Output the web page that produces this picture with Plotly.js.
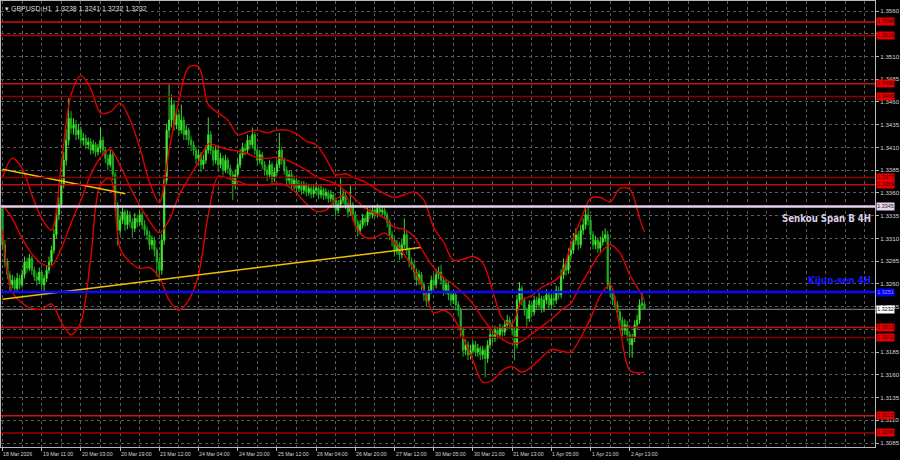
<!DOCTYPE html>
<html><head><meta charset="utf-8">
<script src="https://cdn.plot.ly/plotly-3.0.1.min.js"></script>
<style>html,body{margin:0;padding:0;background:#000;}#chart{width:900px;height:460px;}</style>
</head><body><div id="chart"></div>
<script>
// ---- OHLC data (GBPUSD H1), bar index 0 = 18 Mar 2026 19:00 ----
const firstOpen = 1.3343;
const close = [
1.3303,1.3284,1.3270,1.3259,1.3264,1.3255,1.3266,1.3259,1.3270,1.3284,
1.3277,1.3288,1.3275,1.3268,1.3264,1.3273,1.3259,1.3266,1.3275,1.3284,
1.3297,1.3314,1.3336,1.3347,1.3369,1.3396,1.3418,1.3442,1.3431,1.3435,
1.3424,1.3429,1.3418,1.3420,1.3413,1.3416,1.3407,1.3413,1.3405,1.3409,
1.3418,1.3407,1.3398,1.3391,1.3402,1.3380,1.3347,1.3319,1.3330,1.3339,
1.3325,1.3336,1.3328,1.3321,1.3332,1.3328,1.3336,1.3325,1.3319,1.3314,
1.3303,1.3308,1.3297,1.3284,1.3275,1.3308,1.3374,1.3429,1.3440,1.3457,
1.3435,1.3446,1.3429,1.3440,1.3424,1.3429,1.3418,1.3413,1.3407,1.3398,
1.3402,1.3391,1.3396,1.3407,1.3424,1.3407,1.3396,1.3407,1.3391,1.3398,
1.3385,1.3396,1.3387,1.3380,1.3369,1.3380,1.3391,1.3402,1.3409,1.3407,
1.3418,1.3413,1.3424,1.3407,1.3396,1.3402,1.3391,1.3385,1.3380,1.3391,
1.3376,1.3383,1.3391,1.3407,1.3396,1.3385,1.3374,1.3380,1.3369,1.3374,
1.3365,1.3369,1.3363,1.3368,1.3361,1.3365,1.3359,1.3363,1.3365,1.3358,
1.3363,1.3357,1.3360,1.3354,1.3358,1.3352,1.3341,1.3347,1.3352,1.3358,
1.3347,1.3339,1.3347,1.3336,1.3328,1.3319,1.3325,1.3332,1.3328,1.3339,
1.3336,1.3341,1.3337,1.3343,1.3339,1.3341,1.3336,1.3328,1.3314,1.3308,
1.3297,1.3303,1.3292,1.3303,1.3314,1.3297,1.3284,1.3281,1.3273,1.3264,
1.3270,1.3259,1.3248,1.3242,1.3253,1.3264,1.3259,1.3270,1.3273,1.3264,
1.3253,1.3259,1.3248,1.3242,1.3248,1.3237,1.3231,1.3209,1.3187,1.3193,
1.3182,1.3187,1.3193,1.3185,1.3189,1.3182,1.3187,1.3178,1.3193,1.3204,
1.3200,1.3209,1.3204,1.3211,1.3207,1.3215,1.3220,1.3215,1.3209,1.3193,
1.3242,1.3255,1.3242,1.3231,1.3222,1.3237,1.3229,1.3242,1.3237,1.3244,
1.3233,1.3242,1.3248,1.3237,1.3244,1.3242,1.3253,1.3248,1.3270,1.3281,
1.3275,1.3292,1.3297,1.3308,1.3314,1.3303,1.3319,1.3325,1.3336,1.3330,
1.3314,1.3303,1.3308,1.3299,1.3306,1.3310,1.3314,1.3259,1.3251,1.3242,
1.3237,1.3229,1.3220,1.3209,1.3215,1.3204,1.3193,1.3200,1.3215,1.3220,
1.3237,1.3238,1.3232];
const high = [
1.3347,1.3308,1.3288,1.3274,1.3270,1.3268,1.3272,1.3270,1.3276,1.3290,
1.3289,1.3293,1.3291,1.3279,1.3272,1.3278,1.3276,1.3270,1.3280,1.3290,
1.3302,1.3320,1.3342,1.3355,1.3378,1.3405,1.3430,1.3464,1.3450,1.3442,
1.3440,1.3436,1.3433,1.3426,1.3424,1.3421,1.3420,1.3418,1.3416,1.3414,
1.3432,1.3422,1.3410,1.3402,1.3407,1.3405,1.3383,1.3350,1.3336,1.3346,
1.3342,1.3341,1.3340,1.3332,1.3338,1.3336,1.3342,1.3339,1.3330,1.3323,
1.3318,1.3313,1.3312,1.3300,1.3290,1.3315,1.3380,1.3436,1.3479,1.3468,
1.3462,1.3452,1.3450,1.3457,1.3444,1.3435,1.3432,1.3422,1.3417,1.3411,
1.3408,1.3405,1.3402,1.3412,1.3443,1.3428,1.3411,1.3412,1.3410,1.3404,
1.3401,1.3402,1.3399,1.3391,1.3384,1.3386,1.3397,1.3408,1.3415,1.3414,
1.3424,1.3422,1.3432,1.3427,1.3410,1.3407,1.3405,1.3395,1.3389,1.3396,
1.3394,1.3388,1.3396,1.3426,1.3411,1.3399,1.3389,1.3385,1.3384,1.3379,
1.3378,1.3374,1.3373,1.3373,1.3371,1.3370,1.3368,1.3368,1.3371,1.3368,
1.3368,1.3366,1.3365,1.3363,1.3363,1.3361,1.3355,1.3352,1.3376,1.3363,
1.3361,1.3350,1.3368,1.3350,1.3339,1.3331,1.3330,1.3337,1.3336,1.3344,
1.3343,1.3346,1.3345,1.3348,1.3347,1.3346,1.3345,1.3339,1.3331,1.3318,
1.3311,1.3308,1.3306,1.3310,1.3332,1.3318,1.3300,1.3289,1.3285,1.3277,
1.3275,1.3273,1.3262,1.3252,1.3258,1.3269,1.3271,1.3276,1.3279,1.3281,
1.3268,1.3264,1.3262,1.3252,1.3253,1.3251,1.3241,1.3234,1.3212,1.3199,
1.3197,1.3193,1.3198,1.3197,1.3194,1.3192,1.3192,1.3190,1.3198,1.3209,
1.3208,1.3214,1.3212,1.3216,1.3214,1.3220,1.3226,1.3224,1.3218,1.3212,
1.3248,1.3262,1.3258,1.3245,1.3234,1.3242,1.3240,1.3247,1.3246,1.3250,
1.3247,1.3247,1.3254,1.3251,1.3249,1.3250,1.3258,1.3257,1.3276,1.3288,
1.3285,1.3299,1.3304,1.3316,1.3321,1.3318,1.3325,1.3332,1.3344,1.3344,
1.3334,1.3318,1.3313,1.3311,1.3312,1.3318,1.3321,1.3318,1.3264,1.3255,
1.3247,1.3241,1.3232,1.3224,1.3221,1.3219,1.3207,1.3205,1.3220,1.3226,
1.3243,1.3250,1.3241];
const low = [
1.3297,1.3278,1.3265,1.3251,1.3255,1.3250,1.3252,1.3254,1.3256,1.3266,
1.3272,1.3274,1.3270,1.3263,1.3258,1.3260,1.3254,1.3249,1.3262,1.3271,
1.3280,1.3293,1.3310,1.3330,1.3343,1.3365,1.3390,1.3412,1.3425,1.3424,
1.3418,1.3419,1.3413,1.3412,1.3408,1.3408,1.3402,1.3403,1.3400,1.3401,
1.3405,1.3402,1.3393,1.3385,1.3388,1.3374,1.3340,1.3302,1.3314,1.3326,
1.3318,1.3320,1.3322,1.3310,1.3317,1.3322,1.3324,1.3320,1.3313,1.3308,
1.3297,1.3298,1.3290,1.3268,1.3262,1.3270,1.3303,1.3370,1.3420,1.3432,
1.3428,1.3430,1.3423,1.3425,1.3418,1.3418,1.3412,1.3406,1.3401,1.3392,
1.3393,1.3383,1.3386,1.3392,1.3403,1.3402,1.3390,1.3392,1.3385,1.3387,
1.3379,1.3382,1.3381,1.3374,1.3352,1.3364,1.3376,1.3387,1.3398,1.3401,
1.3403,1.3408,1.3409,1.3402,1.3390,1.3392,1.3386,1.3379,1.3373,1.3376,
1.3370,1.3372,1.3379,1.3387,1.3391,1.3380,1.3368,1.3370,1.3363,1.3364,
1.3360,1.3361,1.3358,1.3359,1.3356,1.3357,1.3354,1.3355,1.3359,1.3353,
1.3354,1.3352,1.3353,1.3349,1.3350,1.3346,1.3334,1.3337,1.3343,1.3348,
1.3342,1.3333,1.3335,1.3330,1.3321,1.3312,1.3314,1.3321,1.3323,1.3324,
1.3331,1.3332,1.3333,1.3333,1.3334,1.3335,1.3331,1.3322,1.3308,1.3301,
1.3290,1.3292,1.3286,1.3288,1.3299,1.3292,1.3278,1.3275,1.3267,1.3258,
1.3259,1.3253,1.3241,1.3235,1.3238,1.3249,1.3254,1.3255,1.3265,1.3259,
1.3247,1.3249,1.3242,1.3236,1.3238,1.3231,1.3224,1.3202,1.3180,1.3182,
1.3176,1.3177,1.3183,1.3180,1.3180,1.3176,1.3177,1.3157,1.3173,1.3189,
1.3195,1.3196,1.3199,1.3200,1.3202,1.3203,1.3211,1.3210,1.3203,1.3176,
1.3189,1.3236,1.3236,1.3225,1.3213,1.3218,1.3223,1.3225,1.3232,1.3233,
1.3228,1.3229,1.3238,1.3232,1.3233,1.3236,1.3238,1.3243,1.3244,1.3265,
1.3269,1.3271,1.3287,1.3293,1.3303,1.3297,1.3299,1.3314,1.3320,1.3324,
1.3308,1.3298,1.3298,1.3294,1.3295,1.3302,1.3306,1.3254,1.3245,1.3236,
1.3231,1.3223,1.3214,1.3202,1.3204,1.3197,1.3180,1.3179,1.3196,1.3210,
1.3216,1.3232,1.3232];

// ---- Bollinger-type envelope (red), sampled at bar indices ----
const bandBars = [0,4,8,12,16,20,24,28,32,36,40,44,48,52,56,60,64,68,72,76,80,84,88,92,96,100,104,108,112,116,120,124,128,132,136,140,144,148,152,156,160,164,168,172,176,180,184,188,192,196,200,204,208,212,216,220,224,228,232,236,240,244,248,252,256,260,262];
const upperBand = [1.3377,1.3398,1.3387,1.3358,1.3332,1.3319,1.3391,1.3468,1.3489,1.3475,
1.3448,1.3449,1.3459,1.3441,1.3410,1.3372,1.3349,1.3407,1.3462,1.3498,
1.3499,1.3457,1.3448,1.3440,1.3424,1.3427,1.3429,1.3426,1.3429,1.3429,
1.3425,1.3417,1.3413,1.3398,1.3380,1.3381,1.3376,1.3372,1.3365,1.3359,
1.3355,1.3358,1.3361,1.3352,1.3322,1.3306,1.3286,1.3287,1.3290,1.3283,
1.3253,1.3222,1.3216,1.3242,1.3247,1.3256,1.3261,1.3270,1.3303,1.3330,
1.3354,1.3355,1.3350,1.3365,1.3364,1.3332,1.3317];
const middleBand = [1.3347,1.3332,1.3310,1.3293,1.3282,1.3280,1.3299,1.3327,1.3352,1.3380,
1.3399,1.3408,1.3390,1.3367,1.3346,1.3329,1.3316,1.3330,1.3357,1.3376,
1.3394,1.3414,1.3411,1.3408,1.3406,1.3403,1.3399,1.3398,1.3399,1.3396,
1.3391,1.3385,1.3378,1.3374,1.3370,1.3362,1.3353,1.3343,1.3338,1.3332,
1.3322,1.3320,1.3312,1.3294,1.3278,1.3267,1.3259,1.3250,1.3238,1.3222,
1.3208,1.3199,1.3194,1.3197,1.3205,1.3213,1.3221,1.3231,1.3239,1.3259,
1.3277,1.3294,1.3303,1.3294,1.3270,1.3252,1.3242];
const lowerBand = [1.3319,1.3251,1.3239,1.3233,1.3232,1.3238,1.3218,1.3204,1.3218,1.3288,
1.3369,1.3376,1.3299,1.3284,1.3277,1.3278,1.3267,1.3242,1.3231,1.3242,
1.3270,1.3336,1.3378,1.3376,1.3373,1.3369,1.3369,1.3369,1.3370,1.3368,
1.3360,1.3348,1.3340,1.3341,1.3353,1.3357,1.3324,1.3311,1.3311,1.3316,
1.3305,1.3292,1.3275,1.3253,1.3228,1.3231,1.3223,1.3201,1.3176,1.3152,
1.3154,1.3165,1.3169,1.3163,1.3169,1.3179,1.3188,1.3186,1.3185,1.3201,
1.3222,1.3247,1.3259,1.3211,1.3165,1.3162,1.3163];

// ---- trend lines (yellow) ----
const trendDownBars = [0, 50.2];
const trendDownPrices = [1.3386, 1.3359];
const trendUpBars = [0, 170.6];
const trendUpPrices = [1.3243, 1.3300];

// ---- horizontal levels ----
const redLevels = [1.3548, 1.3533, 1.3480, 1.3466, 1.3377, 1.3369, 1.3212, 1.3201, 1.3115, 1.3096];
const redLevelColors = ['#d01010','#a80000','#d01010','#900000','#900000','#c80808','#c01010','#8c0000','#d01010','#a00000'];
const senkouLevel = 1.3345;
const kijunLevel = 1.3251;
const lastPrice = 1.3232;

// ---- price axis ticks (labels hidden under level boxes are blank, as in the reference) ----
const priceTicks = [1.3085,1.3110,1.3135,1.3160,1.3185,1.3210,1.3235,1.3260,1.3285,1.3310,1.3335,1.3360,1.3385,1.3410,1.3435,1.3460,1.3485,1.3510,1.3535,1.3560];
const priceTickText = ['1.3085','1.3110','1.3135','1.3160','1.3185','','1.3235','1.3260','1.3285','1.3310','1.3335','1.3360','1.3385','1.3410','1.3435','1.3460','1.3485','1.3510','','1.3560'];

// ---- time axis labels ----
const labelBars = [0,16,32,48,64,80,96,112,128,144,160,176,192,208,224,240,256];
const labelText = ['18 Mar 2026','19 Mar 11:00','20 Mar 03:00','20 Mar 19:00','23 Mar 12:00','24 Mar 04:00','24 Mar 20:00','25 Mar 12:00','26 Mar 04:00','26 Mar 20:00','27 Mar 12:00','30 Mar 05:00','30 Mar 21:00','31 Mar 13:00','1 Apr 05:00','1 Apr 21:00','2 Apr 13:00'];
const headerText = 'GBPUSD,H1  1.3238 1.3241 1.3232 1.3232';

const bars = close.map((_, i) => i);
const open = [firstOpen].concat(close.slice(0, -1));

const traces = [
  {type:'scatter', mode:'lines', x:bandBars, y:upperBand, line:{color:'#e00000', width:1.4, shape:'spline', smoothing:0.9}, hoverinfo:'skip'},
  {type:'scatter', mode:'lines', x:bandBars, y:middleBand, line:{color:'#e00000', width:1.4, shape:'spline', smoothing:0.9}, hoverinfo:'skip'},
  {type:'scatter', mode:'lines', x:bandBars, y:lowerBand, line:{color:'#e00000', width:1.4, shape:'spline', smoothing:0.9}, hoverinfo:'skip'},
  {type:'candlestick', x:bars, open:open, high:high, low:low, close:close,
   increasing:{line:{color:'#3ade2a', width:1}, fillcolor:'#9dff5a'},
   decreasing:{line:{color:'#1db41d', width:1}, fillcolor:'#22a822'},
   whiskerwidth:0},
  {type:'scatter', mode:'lines', x:trendDownBars, y:trendDownPrices, line:{color:'#f0c000', width:1.5}, hoverinfo:'skip'},
  {type:'scatter', mode:'lines', x:trendUpBars, y:trendUpPrices, line:{color:'#f0c000', width:1.5}, hoverinfo:'skip'}
];

const shapes = [];
redLevels.forEach((p, k) => shapes.push({type:'line', xref:'paper', x0:0, x1:1, yref:'y', y0:p, y1:p, line:{color:redLevelColors[k], width:1.5}, layer:'above'}));
shapes.push({type:'line', xref:'paper', x0:0, x1:1, yref:'y', y0:lastPrice, y1:lastPrice, line:{color:'#8a8a8a', width:1}, layer:'below'});
shapes.push({type:'line', xref:'paper', x0:0, x1:1, yref:'y', y0:senkouLevel, y1:senkouLevel, line:{color:'#e4d2ea', width:2.5}, layer:'above'});
shapes.push({type:'line', xref:'paper', x0:0, x1:1, yref:'y', y0:kijunLevel, y1:kijunLevel, line:{color:'#0a0aff', width:2.5}, layer:'above'});

const boxFont = {family:'Liberation Sans, Arial, sans-serif', size:5.4};
const annotations = [];
function priceBox(p, bg, fg){
  annotations.push({xref:'paper', x:1, xanchor:'left', xshift:1, yref:'y', y:p, yanchor:'middle', text:p.toFixed(4), showarrow:false, bgcolor:bg, borderpad:0.3, font:Object.assign({color:fg}, boxFont)});
}
redLevels.forEach(p => priceBox(p, '#e80000', '#3a0000'));
priceBox(senkouLevel, '#e6d6ee', '#222');
priceBox(kijunLevel, '#0000f0', '#9a9aff');
priceBox(lastPrice, '#ffffff', '#000');

const axisFont = {family:'Liberation Sans, Arial, sans-serif', color:'#d4d4d4'};
labelBars.forEach((b, k) => annotations.push({xref:'x', x:b, xanchor:'left', xshift:-1, yref:'paper', y:0, yanchor:'top', yshift:-2,
  text:labelText[k], showarrow:false, font:Object.assign({size:5.2}, axisFont)}));

const labelFamily = 'Liberation Sans Narrow, Arial Narrow, DejaVu Sans Condensed, sans-serif';
annotations.push({xref:'paper', x:1, xanchor:'right', xshift:-2, yref:'y', y:senkouLevel, yanchor:'top', yshift:-4, showarrow:false,
  text:'<b>Senkou Span B 4H</b>', font:{family:labelFamily, size:9.6, color:'#dccfe8'}});
annotations.push({xref:'paper', x:1, xanchor:'right', xshift:-2, yref:'y', y:kijunLevel, yanchor:'bottom', yshift:4, showarrow:false,
  text:'<b>Kijun-sen 4H</b>', font:{family:labelFamily, size:9.8, color:'#1a1aff'}});
annotations.push({xref:'paper', x:0, xanchor:'left', xshift:2, yref:'paper', y:1, yanchor:'top', yshift:-2, showarrow:false,
  text:'▾ ' + headerText, font:{family:'Liberation Sans, Arial, sans-serif', size:7, color:'#dcdcdc'}});

const layout = {
  width:900, height:460,
  paper_bgcolor:'#000', plot_bgcolor:'#000',
  margin:{l:1, r:25, t:1, b:13},
  showlegend:false,
  xaxis:{range:[-0.6, 356.1], tickmode:'array', tickvals:labelBars, showticklabels:false,
    ticks:'outside', ticklen:3, tickcolor:'#b8b8b8', showgrid:false,
    minor:{tickmode:'linear', tick0:0, dtick:8, showgrid:true, gridcolor:'#5a5a5a', griddash:'3px,3px', ticks:''},
    showline:true, linecolor:'#b8b8b8', linewidth:1, mirror:true, zeroline:false,
    rangeslider:{visible:false}, fixedrange:true},
  yaxis:{range:[1.30806, 1.35710], side:'right', tickmode:'array', tickvals:priceTicks, ticktext:priceTickText,
    ticks:'outside', ticklen:3, tickcolor:'#b8b8b8', tickfont:Object.assign({size:6.2}, axisFont),
    showgrid:true, gridcolor:'#5a5a5a', griddash:'3px,3px',
    showline:true, linecolor:'#b8b8b8', linewidth:1, mirror:true, zeroline:false, fixedrange:true},
  shapes:shapes,
  annotations:annotations
};
Plotly.newPlot('chart', traces, layout, {displayModeBar:false, staticPlot:true});
</script>
</body></html>
